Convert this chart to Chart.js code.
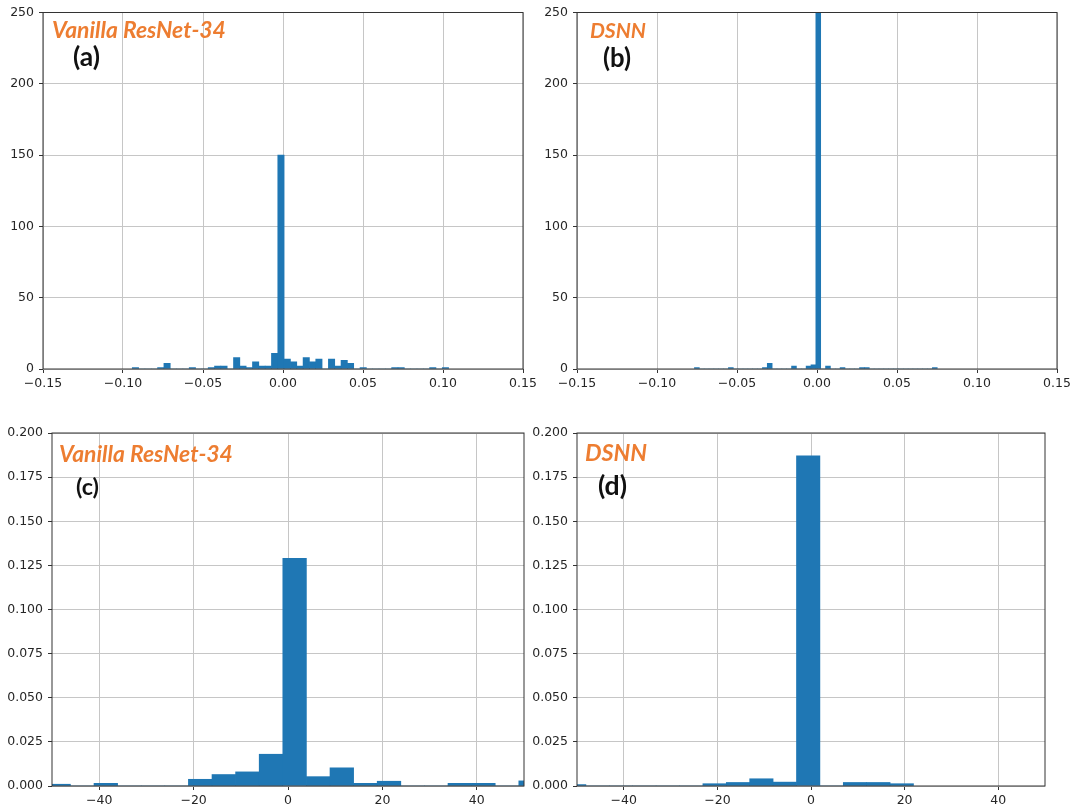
<!DOCTYPE html>
<html>
<head>
<meta charset="utf-8">
<script src="https://cdn.jsdelivr.net/npm/chart.js@4.4.1/dist/chart.umd.min.js"></script>
<style>
  html, body { margin: 0; padding: 0; background: #ffffff; width: 1079px; height: 809px; overflow: hidden; position: relative; }
  canvas { position: absolute; }
</style>
</head>
<body>
<canvas id="panelA"></canvas>
<canvas id="panelB"></canvas>
<canvas id="panelC"></canvas>
<canvas id="panelD"></canvas>
<script>
// ---- Weight histograms (counts, 50 equal bins over the data range) ----
const aBinStart = -0.0942;
const aBinWidth = 0.003954;
const aCounts = [1, 0, 0, 0, 1, 4, 0, 0, 0, 1,
                 0, 0, 1, 2, 2, 0, 8, 2, 1, 5,
                 2, 2, 11, 150, 7, 5, 2, 8, 5, 7,
                 0, 7, 2, 6, 4, 0, 1, 0, 0, 0,
                 0, 1, 1, 0, 0, 0, 0, 1, 0, 1];

const bBinStart = -0.0766;
const bBinWidth = 0.003035;
const bCounts = [1, 0, 0, 0, 0, 0, 0, 1, 0, 0,
                 0, 0, 0, 0, 1, 4, 0, 0, 0, 0,
                 2, 0, 0, 2, 3, 310, 0, 2, 0, 0,
                 1, 0, 0, 0, 1, 1, 0, 0, 0, 0,
                 0, 0, 0, 0, 0, 0, 0, 0, 0, 1];

// ---- Activation histograms (density, bins of width 5) ----
const cBinStart = -51.1;
const cBinWidth = 5;
const cDensity = [0.001, 0, 0.0015, 0, 0, 0, 0.0038, 0.0065, 0.008, 0.018,
                  0.129, 0.0053, 0.0103, 0.0015, 0.0027, 0, 0, 0.0015, 0.0015, 0,
                  0.0029];

const dBinStart = -53.1;
const dBinWidth = 5;
const dDensity = [0.0008, 0, 0, 0, 0, 0, 0.0013, 0.002, 0.0041, 0.0022,
                  0.187, 0, 0.002, 0.002, 0.0013];

// ---- Tick values ----
const weightXTicks = [-0.15, -0.10, -0.05, 0, 0.05, 0.10, 0.15];
const weightYTicks = [0, 50, 100, 150, 200, 250];
const actXTicks = [-40, -20, 0, 20, 40];
const actYTicks = [0, 0.025, 0.05, 0.075, 0.1, 0.125, 0.15, 0.175, 0.2];

// ---- Panel captions ----
const captionModel = ['Vanilla ResNet-34', 'DSNN', 'Vanilla ResNet-34', 'DSNN'];
const captionTag = ['(a)', '(b)', '(c)', '(d)'];

const BAR_BLUE = '#1f77b4';
const CAPTION_ORANGE = '#ED7D31';
const TICK_FONT = { family: 'DejaVu Sans', size: 12.5 };

function histPoints(start, width, values) {
  return values.map((v, i) => ({ x: start + width * (i + 0.5), y: v }));
}
const withMinus = s => s.replace('-', '\u2212');

// Frame around the plot area plus the captions
const panelDecor = {
  id: 'panelDecor',
  afterDraw(chart, args, opts) {
    const { ctx, chartArea: a } = chart;
    ctx.save();
    ctx.strokeStyle = '#333333';
    ctx.lineWidth = 1;
    ctx.strokeRect(a.left, a.top, a.right - a.left, a.bottom - a.top);
    for (const t of opts.items || []) {
      ctx.font = `${t.style} ${t.weight} 20px ${t.family}`;
      const w = ctx.measureText(t.text).width;
      const size = 20 * t.width / w;
      ctx.font = `${t.style} ${t.weight} ${size}px ${t.family}`;
      ctx.fillStyle = t.color;
      ctx.textAlign = 'left';
      ctx.textBaseline = 'alphabetic';
      ctx.fillText(t.text, a.left + t.dx, a.top + t.dy);
    }
    ctx.restore();
  }
};

function makePanel(id, box, points, xRange, yRange, xTicks, yTicks, xFmt, yFmt, captions) {
  const cv = document.getElementById(id);
  const width = box.r - box.cx + box.padR;
  const height = box.b - box.cy + box.xh;
  cv.style.left = box.cx + 'px';
  cv.style.top = box.cy + 'px';
  cv.width = width;
  cv.height = height;
  const yw = box.l - box.cx;

  const gridOpts = {
    display: true,
    color: '#c6c6c6',
    lineWidth: 1,
    drawTicks: true,
    tickLength: 4,
    tickColor: '#333333',
    tickWidth: 1,
    offset: false
  };

  return new Chart(cv, {
    type: 'bar',
    data: {
      datasets: [{
        data: points,
        backgroundColor: BAR_BLUE,
        borderWidth: 0,
        barPercentage: 1,
        categoryPercentage: 1,
        clip: 0
      }]
    },
    options: {
      responsive: false,
      animation: false,
      events: [],
      layout: { padding: { left: 0, top: box.t - box.cy, right: box.padR, bottom: 0 } },
      plugins: {
        legend: { display: false },
        tooltip: { enabled: false },
        panelDecor: { items: captions }
      },
      scales: {
        x: {
          type: 'linear',
          min: xRange[0], max: xRange[1],
          offset: false,
          z: 1,
          grid: gridOpts,
          border: { display: false },
          afterBuildTicks: s => { s.ticks = xTicks.map(v => ({ value: v })); },
          afterFit: s => { s.height = box.xh; },
          ticks: {
            autoSkip: false, maxRotation: 0, padding: 3,
            color: '#262626', font: TICK_FONT,
            callback: v => xFmt(v)
          }
        },
        y: {
          type: 'linear',
          min: yRange[0], max: yRange[1],
          z: 1,
          grid: gridOpts,
          border: { display: false },
          afterBuildTicks: s => { s.ticks = yTicks.map(v => ({ value: v })); },
          afterFit: s => { s.width = yw; },
          ticks: {
            autoSkip: false, padding: 5,
            color: '#262626', font: TICK_FONT,
            callback: v => yFmt(v)
          }
        }
      }
    },
    plugins: [panelDecor]
  });
}

function captions(idx, m, t) {
  return [
    { text: captionModel[idx], style: 'italic', weight: 'bold', family: 'Lato', color: CAPTION_ORANGE,
      width: m.w, dx: m.dx, dy: m.dy },
    { text: captionTag[idx], style: 'normal', weight: 'bold', family: 'Lato', color: '#111111',
      width: t.w, dx: t.dx, dy: t.dy }
  ];
}

const fmtWeightX = v => withMinus(v.toFixed(2));
const fmtWeightY = v => String(Math.round(v));
const fmtActX = v => withMinus(String(Math.round(v)));
const fmtActY = v => v.toFixed(3);

makePanel('panelA', { cx: 0, cy: 0, l: 43, t: 12, r: 523, b: 369, padR: 20, xh: 30 },
  histPoints(aBinStart, aBinWidth, aCounts), [-0.15, 0.15], [0, 250],
  weightXTicks, weightYTicks, fmtWeightX, fmtWeightY,
  captions(0, { w: 174, dx: 9, dy: 25 }, { w: 27, dx: 30, dy: 53 }));

makePanel('panelB', { cx: 527, cy: 0, l: 577, t: 12, r: 1057, b: 369, padR: 20, xh: 30 },
  histPoints(bBinStart, bBinWidth, bCounts), [-0.15, 0.15], [0, 250],
  weightXTicks, weightYTicks, fmtWeightX, fmtWeightY,
  captions(1, { w: 56, dx: 13, dy: 25 }, { w: 28, dx: 26, dy: 54 }));

makePanel('panelC', { cx: 0, cy: 415, l: 52, t: 433, r: 524, b: 786, padR: 6, xh: 23 },
  histPoints(cBinStart, cBinWidth, cDensity), [-50, 50], [0, 0.2],
  actXTicks, actYTicks, fmtActX, fmtActY,
  captions(2, { w: 174, dx: 7, dy: 29 }, { w: 23, dx: 24, dy: 62 }));

makePanel('panelD', { cx: 527, cy: 415, l: 577, t: 433, r: 1045, b: 786, padR: 10, xh: 23 },
  histPoints(dBinStart, dBinWidth, dDensity), [-50, 50], [0, 0.2],
  actXTicks, actYTicks, fmtActX, fmtActY,
  captions(3, { w: 62, dx: 8, dy: 28 }, { w: 29, dx: 21, dy: 62 }));
</script>
</body>
</html>
